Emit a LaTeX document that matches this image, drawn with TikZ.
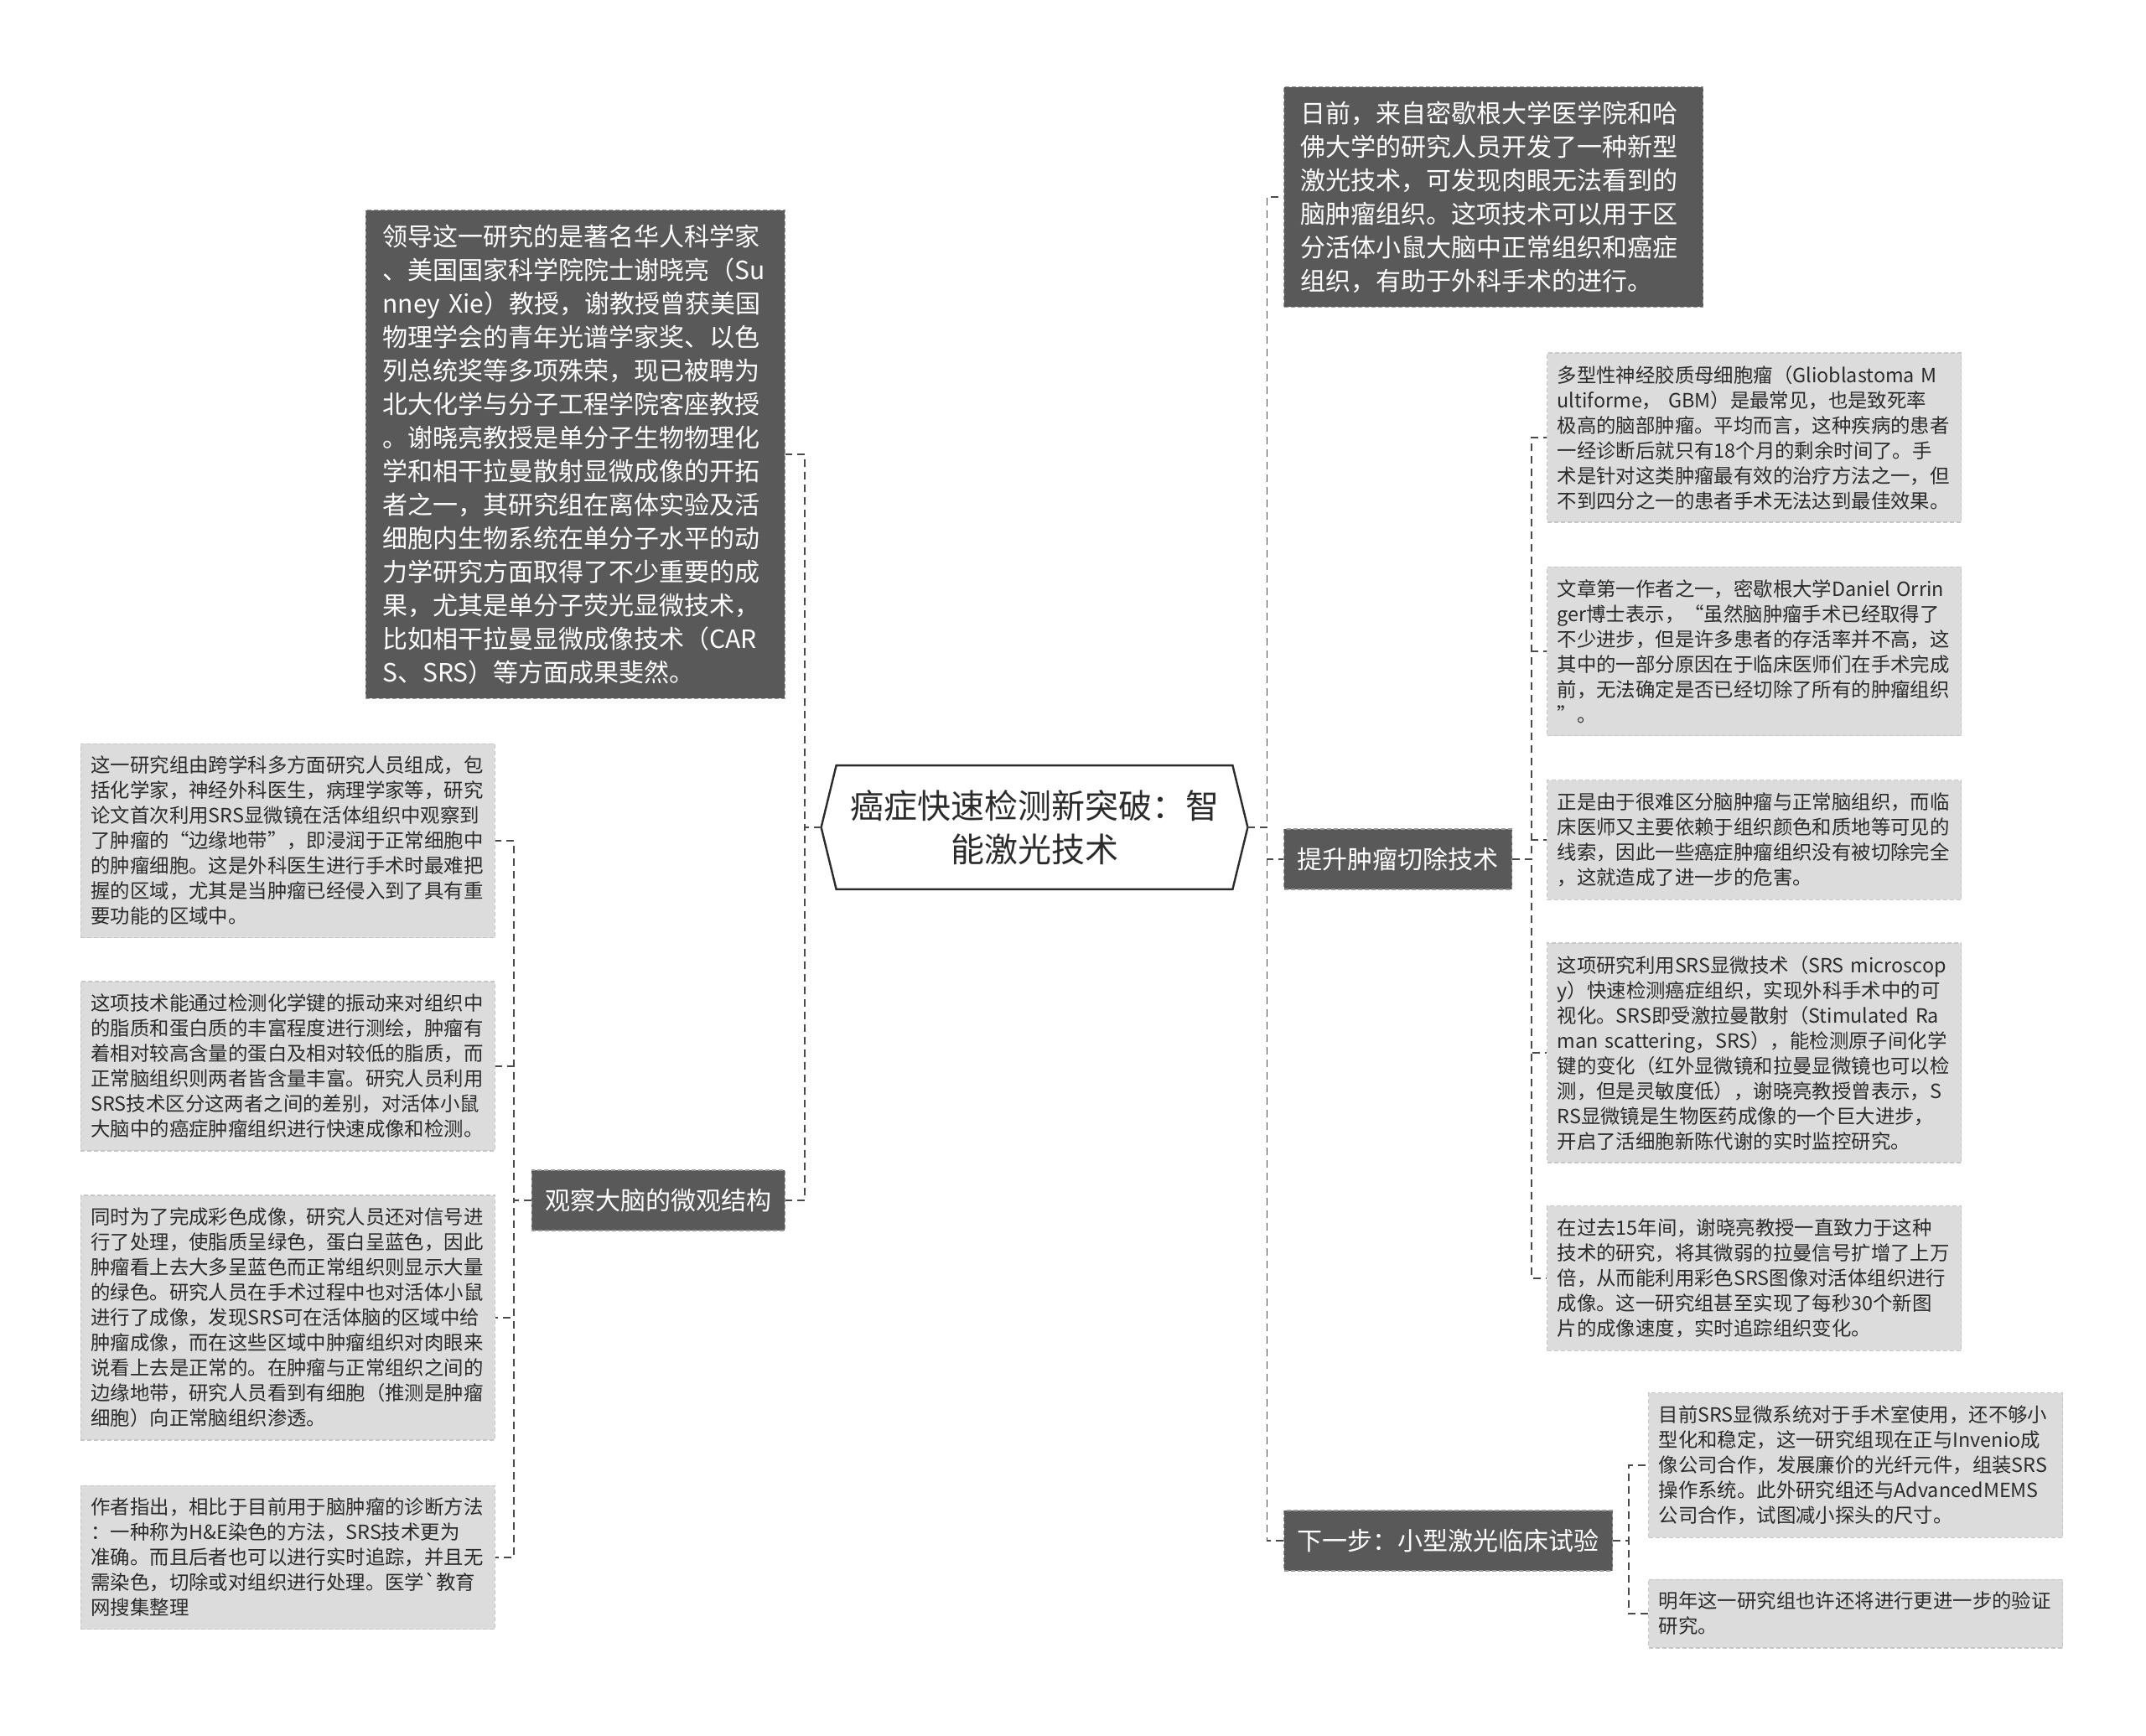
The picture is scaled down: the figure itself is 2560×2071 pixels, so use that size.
\documentclass[tikz,border=0pt]{standalone}
\usepackage{fontspec}
\setmainfont{Noto Sans CJK SC}
\usepackage{tikz}
\usetikzlibrary{positioning}
\definecolor{boxdark}{HTML}{595959}
\definecolor{boxlight}{HTML}{DCDCDC}
\definecolor{inkdark}{HTML}{2B2B2B}
\definecolor{linkgray}{HTML}{4A4A4A}
\tikzset{darkbox/.style={fill=boxdark, draw=black!40, dash pattern=on 2.5pt off 1.5pt, line width=0.6pt, text=white, align=left, text width=230pt, inner xsep=10pt, inner ysep=8.5pt, font=\fontsize{15pt}{20pt}\selectfont}}
\tikzset{greybox/.style={fill=boxlight, draw=black!22, dash pattern=on 2.5pt off 1.5pt, line width=0.6pt, text=inkdark, align=left, text width=235pt, inner xsep=6pt, inner ysep=7.5pt, font=\fontsize{11.7pt}{15pt}\selectfont}}
\tikzset{branch/.style={fill=boxdark, draw=black!40, dash pattern=on 2.5pt off 1.5pt, line width=0.6pt, text=white, inner xsep=8pt, minimum height=36pt, font=\fontsize{15pt}{18pt}\selectfont}}
\tikzset{link/.style={draw=linkgray, line width=0.9pt, dash pattern=on 4.5pt off 3pt}}

\begin{document}
\begin{tikzpicture}[x=0.5pt, y=-0.5pt]
\fill[white] (0,0) rectangle (2560,2071);
\node[minimum width=236pt, minimum height=73.5pt, inner sep=0pt, align=center, text=inkdark, font=\fontsize{20pt}{26pt}\selectfont] (root) at (1234,987) {癌症快速检测新突破：智\\能激光技术};
\draw[draw=inkdark, line width=1.2pt] (root.north west) -- (root.north east) -- ([xshift=9pt]root.east) -- (root.south east) -- (root.south west) -- ([xshift=-9pt]root.west) -- cycle;
\coordinate (rootW) at ([xshift=-9pt]root.west);
\coordinate (rootE) at ([xshift=9pt]root.east);
% left side
\node[darkbox, anchor=east] (lead) at (937,542) {领导这一研究的是著名华人科学家\\、美国国家科学院院士谢晓亮（Su\\nney Xie）教授，谢教授曾获美国\\物理学会的青年光谱学家奖、以色\\列总统奖等多项殊荣，现已被聘为\\北大化学与分子工程学院客座教授\\。谢晓亮教授是单分子生物物理化\\学和相干拉曼散射显微成像的开拓\\者之一，其研究组在离体实验及活\\细胞内生物系统在单分子水平的动\\力学研究方面取得了不少重要的成\\果，尤其是单分子荧光显微技术，\\比如相干拉曼显微成像技术（CAR\\S、SRS）等方面成果斐然。};
\node[branch, anchor=east] (micro) at (937,1432) {观察大脑的微观结构};
\node[greybox, anchor=east] (m1) at (591,1003) {这一研究组由跨学科多方面研究人员组成，包\\括化学家，神经外科医生，病理学家等，研究\\论文首次利用SRS显微镜在活体组织中观察到\\了肿瘤的“边缘地带”，即浸润于正常细胞中\\的肿瘤细胞。这是外科医生进行手术时最难把\\握的区域，尤其是当肿瘤已经侵入到了具有重\\要功能的区域中。};
\node[greybox, anchor=east] (m2) at (591,1272) {这项技术能通过检测化学键的振动来对组织中\\的脂质和蛋白质的丰富程度进行测绘，肿瘤有\\着相对较高含量的蛋白及相对较低的脂质，而\\正常脑组织则两者皆含量丰富。研究人员利用\\SRS技术区分这两者之间的差别，对活体小鼠\\大脑中的癌症肿瘤组织进行快速成像和检测。};
\node[greybox, anchor=east] (m3) at (591,1572) {同时为了完成彩色成像，研究人员还对信号进\\行了处理，使脂质呈绿色，蛋白呈蓝色，因此\\肿瘤看上去大多呈蓝色而正常组织则显示大量\\的绿色。研究人员在手术过程中也对活体小鼠\\进行了成像，发现SRS可在活体脑的区域中给\\肿瘤成像，而在这些区域中肿瘤组织对肉眼来\\说看上去是正常的。在肿瘤与正常组织之间的\\边缘地带，研究人员看到有细胞（推测是肿瘤\\细胞）向正常脑组织渗透。};
\node[greybox, anchor=east] (m4) at (591,1858) {作者指出，相比于目前用于脑肿瘤的诊断方法\\：一种称为H\&E染色的方法，SRS技术更为\\准确。而且后者也可以进行实时追踪，并且无\\需染色，切除或对组织进行处理。医学\textasciigrave 教育\\网搜集整理};
% right side
\node[darkbox, anchor=west] (intro) at (1531,235) {日前，来自密歇根大学医学院和哈\\佛大学的研究人员开发了一种新型\\激光技术，可发现肉眼无法看到的\\脑肿瘤组织。这项技术可以用于区\\分活体小鼠大脑中正常组织和癌症\\组织，有助于外科手术的进行。};
\node[branch, anchor=west] (resect) at (1531,1025) {提升肿瘤切除技术};
\node[branch, anchor=west] (nextstep) at (1531,1838) {下一步：小型激光临床试验};
\node[greybox, anchor=west] (r1) at (1845,522) {多型性神经胶质母细胞瘤（Glioblastoma M\\ultiforme， GBM）是最常见，也是致死率\\极高的脑部肿瘤。平均而言，这种疾病的患者\\一经诊断后就只有18个月的剩余时间了。手\\术是针对这类肿瘤最有效的治疗方法之一，但\\不到四分之一的患者手术无法达到最佳效果。};
\node[greybox, anchor=west] (r2) at (1845,777) {文章第一作者之一，密歇根大学Daniel Orrin\\ger博士表示，“虽然脑肿瘤手术已经取得了\\不少进步，但是许多患者的存活率并不高，这\\其中的一部分原因在于临床医师们在手术完成\\前，无法确定是否已经切除了所有的肿瘤组织\\”。};
\node[greybox, anchor=west] (r3) at (1845,1002) {正是由于很难区分脑肿瘤与正常脑组织，而临\\床医师又主要依赖于组织颜色和质地等可见的\\线索，因此一些癌症肿瘤组织没有被切除完全\\，这就造成了进一步的危害。};
\node[greybox, anchor=west] (r4) at (1845,1256) {这项研究利用SRS显微技术（SRS microscop\\y）快速检测癌症组织，实现外科手术中的可\\视化。SRS即受激拉曼散射（Stimulated Ra\\man scattering，SRS），能检测原子间化学\\键的变化（红外显微镜和拉曼显微镜也可以检\\测，但是灵敏度低），谢晓亮教授曾表示，S\\RS显微镜是生物医药成像的一个巨大进步，\\开启了活细胞新陈代谢的实时监控研究。};
\node[greybox, anchor=west] (r5) at (1845,1525) {在过去15年间，谢晓亮教授一直致力于这种\\技术的研究，将其微弱的拉曼信号扩增了上万\\倍，从而能利用彩色SRS图像对活体组织进行\\成像。这一研究组甚至实现了每秒30个新图\\片的成像速度，实时追踪组织变化。};
\node[greybox, anchor=west] (n1) at (1966,1748) {目前SRS显微系统对于手术室使用，还不够小\\型化和稳定，这一研究组现在正与Invenio成\\像公司合作，发展廉价的光纤元件，组装SRS\\操作系统。此外研究组还与AdvancedMEMS\\公司合作，试图减小探头的尺寸。};
\node[greybox, anchor=west] (n2) at (1966,1925) {明年这一研究组也许还将进行更进一步的验证\\研究。};
% connectors
\foreach \kid in {lead,micro} \draw[link] (rootW) -- ++(-20,0) |- (\kid.east);
\foreach \kid in {intro,resect,nextstep} \draw[link] (rootE) -- ++(23,0) |- (\kid.west);
\foreach \kid in {m1,m2,m3,m4} \draw[link] (micro.west) -- ++(-21,0) |- (\kid.east);
\foreach \kid in {r1,r2,r3,r4,r5} \draw[link] (resect.east) -- ++(23,0) |- (\kid.west);
\foreach \kid in {n1,n2} \draw[link] (nextstep.east) -- ++(19,0) |- (\kid.west);
\end{tikzpicture}
\end{document}
